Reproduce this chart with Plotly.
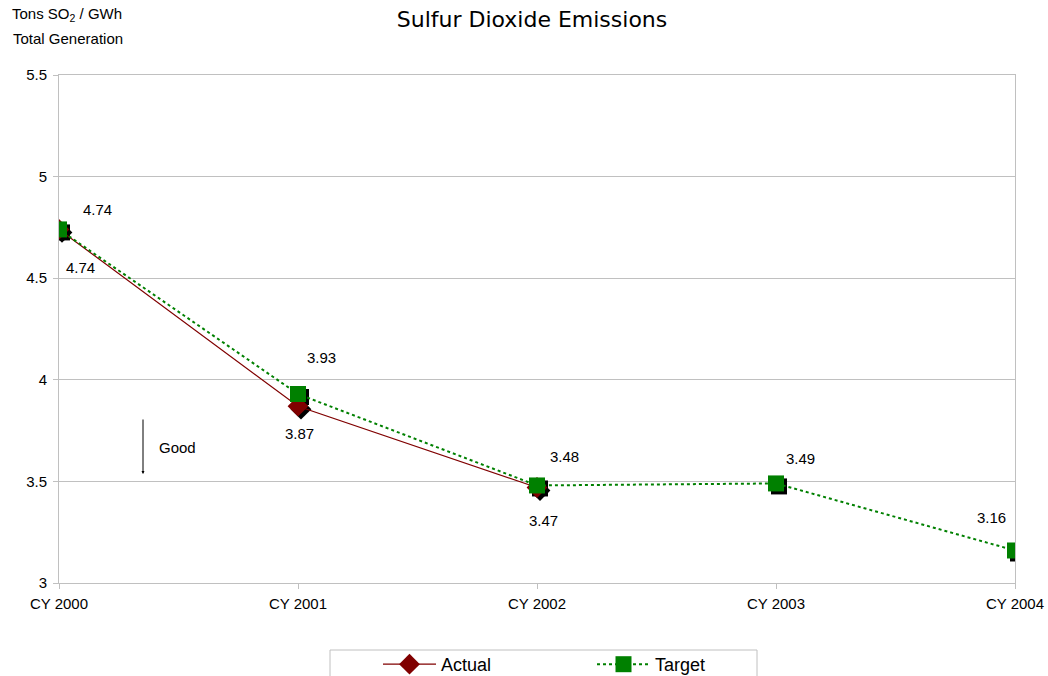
import plotly.graph_objects as go

categories = ["CY 2000", "CY 2001", "CY 2002", "CY 2003", "CY 2004"]
actual = [4.74, 3.87, 3.47]
target = [4.74, 3.93, 3.48, 3.49, 3.16]

title = "Sulfur Dioxide Emissions"
ytitle1 = "Tons SO<sub>2</sub> / GWh"
ytitle2 = "Total Generation"

FONT = "Liberation Sans, Arial, sans-serif"
RED = "#800000"
GREEN = "#008000"
GRID = "#c0c0c0"

W, H = 1048, 676
# plot area in page pixels
L, R, T, B = 59, 1015, 75, 583
xr = [0, len(categories) - 1]
yr = [3, 5.5]
dx = (xr[1] - xr[0]) / (R - L)
dy = (yr[1] - yr[0]) / (B - T)
sh = 3  # shadow offset in px


def px(x):
    return (x - L) / (R - L)


def py(y):
    return (B - y) / (B - T)


fig = go.Figure()

# shadows on the (hidden) main axes, range shifted so they appear down-right
fig.add_trace(go.Scatter(x=categories[:len(actual)], y=actual, mode="markers",
                         marker=dict(symbol="diamond", size=16, color="black"),
                         xaxis="x", yaxis="y", showlegend=False, hoverinfo="skip"))
fig.add_trace(go.Scatter(x=categories, y=target, mode="markers",
                         marker=dict(symbol="square", size=16, color="black"),
                         xaxis="x", yaxis="y", showlegend=False, hoverinfo="skip"))

fig.add_trace(go.Scatter(x=categories[:len(actual)], y=actual, mode="lines+markers", name="Actual",
                         line=dict(color=RED, width=1.2),
                         marker=dict(symbol="diamond", size=16, color=RED),
                         xaxis="x2", yaxis="y2"))
fig.add_trace(go.Scatter(x=categories, y=target, mode="lines+markers", name="Target",
                         line=dict(color=GREEN, width=2, dash="dot"),
                         marker=dict(symbol="square", size=16, color=GREEN),
                         xaxis="x2", yaxis="y2"))

anns = []
tshift = [(38, 20), (23, 37), (27, 29), (24, 25), (-24, 33)]
for (c, v), (xs, ys) in zip(zip(categories, target), tshift):
    anns.append(dict(x=c, y=v, xref="x2", yref="y2", text=f"{v:.2f}", showarrow=False,
                     xshift=xs, yshift=ys, font=dict(family=FONT, size=15, color="black")))
ashift = [(21, -38), (1, -27), (6, -33)]
for (c, v), (xs, ys) in zip(zip(categories, actual), ashift):
    anns.append(dict(x=c, y=v, xref="x2", yref="y2", text=f"{v:.2f}", showarrow=False,
                     xshift=xs, yshift=ys, font=dict(family=FONT, size=15, color="black")))
# y-axis title (two lines)
anns.append(dict(x=px(67), y=py(15), xref="paper", yref="paper", text=ytitle1, showarrow=False,
                 xanchor="center", yanchor="middle", font=dict(family=FONT, size=15, color="black")))
anns.append(dict(x=px(68), y=py(39), xref="paper", yref="paper", text=ytitle2, showarrow=False,
                 xanchor="center", yanchor="middle", font=dict(family=FONT, size=15, color="black")))
# Good arrow
anns.append(dict(x=px(143), y=py(474), ax=0, ay=-56,
                 xref="paper", yref="paper", axref="pixel", ayref="pixel", text="", showarrow=True,
                 arrowhead=2, arrowsize=0.6, arrowwidth=1, arrowcolor="black"))
anns.append(dict(x=px(177), y=py(447), xref="paper", yref="paper", text="Good",
                 xanchor="center", yanchor="middle",
                 showarrow=False, font=dict(family=FONT, size=15, color="black")))

# legend frame
shapes = [dict(type="rect", xref="paper", yref="paper", x0=px(330), x1=px(757), y0=py(690), y1=py(650),
               line=dict(color=GRID, width=1), fillcolor="white", layer="above")]

fig.update_layout(
    width=W, height=H,
    margin=dict(l=L, r=W - R, t=T, b=H - B, autoexpand=False),
    paper_bgcolor="white", plot_bgcolor="white",
    title=dict(text=title, x=532 / W, xanchor="center", y=1 - 19 / H, yanchor="middle",
               font=dict(family="DejaVu Sans, Verdana, sans-serif", size=22, color="black")),
    xaxis=dict(type="category", categoryorder="array", categoryarray=categories,
               range=[xr[0] - sh * dx, xr[1] - sh * dx], visible=False),
    yaxis=dict(range=[yr[0] + sh * dy, yr[1] + sh * dy], visible=False),
    xaxis2=dict(type="category", overlaying="x", categoryorder="array", categoryarray=categories,
                range=xr, showgrid=False, showline=True, linecolor=GRID,
                mirror=True, ticks="outside", ticklen=5, tickcolor=GRID, ticklabelstandoff=2,
                side="bottom", tickfont=dict(family=FONT, size=15, color="black")),
    yaxis2=dict(overlaying="y", range=yr, dtick=0.5, showgrid=True, gridcolor=GRID, gridwidth=1,
                showline=True, linecolor=GRID, mirror=True, ticks="outside", ticklen=5, tickcolor=GRID,
                zeroline=False, side="left", ticklabelstandoff=3,
                tickfont=dict(family=FONT, size=15, color="black")),
    legend=dict(orientation="h", x=378 / W, xanchor="left", xref="container",
                y=1 - 646 / H, yanchor="top", yref="container",
                borderwidth=0, bgcolor="rgba(0,0,0,0)", itemwidth=53,
                font=dict(family=FONT, size=18, color="black"), entrywidth=146),
    annotations=anns,
    shapes=shapes,
    showlegend=True,
)

fig.write_html("out.html", config={"displayModeBar": False},
               post_script="document.body.style.margin='0';document.body.style.overflow='hidden';")
